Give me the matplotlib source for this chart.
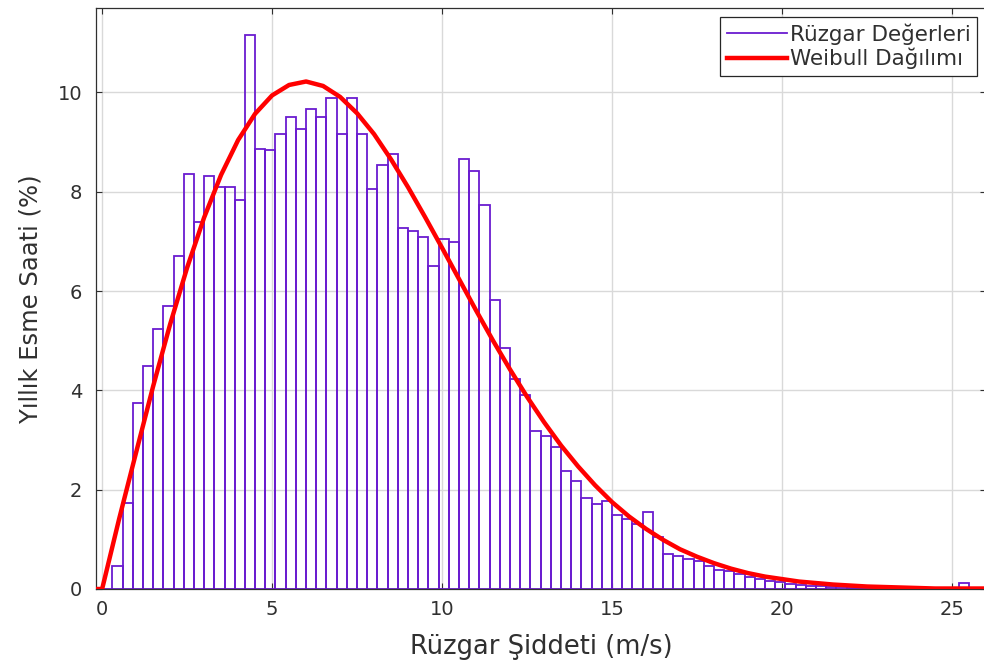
import numpy as np
import matplotlib
matplotlib.use("Agg")
import matplotlib.pyplot as plt
from matplotlib.lines import Line2D

plt.rcParams['font.family'] = ['DejaVu Sans']

# Histogram of wind speeds: bin width 0.3 m/s starting at 0
bin_width = 0.3
bar_heights = [
    0.00, 0.46, 1.73, 3.74, 4.50, 5.24, 5.69, 6.71, 8.35, 7.39,
    8.32, 8.09, 8.09, 7.84, 11.15, 8.87, 8.84, 9.17, 9.51, 9.27,
    9.67, 9.51, 9.88, 9.17, 9.88, 9.17, 8.05, 8.54, 8.76, 7.26,
    7.21, 7.09, 6.51, 7.05, 6.99, 8.66, 8.42, 7.73, 5.82, 4.85,
    4.23, 3.91, 3.19, 3.09, 2.85, 2.37, 2.17, 1.83, 1.72, 1.78,
    1.49, 1.41, 1.31, 1.56, 1.04, 0.71, 0.66, 0.61, 0.56, 0.46,
    0.39, 0.36, 0.31, 0.25, 0.20, 0.17, 0.14, 0.10, 0.08, 0.07,
    0.06, 0.05, 0.04, 0.03, 0.02, 0.02, 0.01, 0.01, 0.00, 0.00,
    0.00, 0.01, 0.00, 0.00, 0.12,
]

# Fitted Weibull density (% per m/s), sampled every 0.5 m/s
weibull_speed = [-0.2] + [0.5 * i for i in range(53)]
weibull_pct = [
    0.00,
    0.00, 1.41, 2.75, 4.08, 5.33, 6.47, 7.48, 8.34, 9.04, 9.57,
    9.94, 10.15, 10.22, 10.13, 9.91, 9.58, 9.16, 8.65, 8.09, 7.49,
    6.87, 6.24, 5.61, 5.00, 4.42, 3.87, 3.36, 2.89, 2.47, 2.09,
    1.75, 1.46, 1.21, 0.99, 0.80, 0.65, 0.52, 0.41, 0.32, 0.25,
    0.20, 0.15, 0.12, 0.09, 0.07, 0.05, 0.04, 0.03, 0.02, 0.01,
    0.01, 0.01, 0.01,
]

x_ticks = [0, 5, 10, 15, 20, 25]
y_ticks = [0, 2, 4, 6, 8, 10]

bar_color = '#6A1BD0'
line_color = '#FF0000'
text_color = '#303030'

fig = plt.figure(figsize=(9.84, 6.65), dpi=100)
ax = fig.add_axes([96 / 984, 1 - 589 / 665, 890 / 984, (589 - 8) / 665])

left_edges = np.arange(len(bar_heights)) * bin_width
ax.bar(left_edges, bar_heights, width=bin_width, align='edge',
       facecolor='none', edgecolor=bar_color, linewidth=1.3, zorder=2)
ax.plot(weibull_speed, weibull_pct, color=line_color, linewidth=3.2,
        solid_capstyle='butt', zorder=3)

ax.set_xlim(-0.18, 26)
ax.set_ylim(0, 11.7)
ax.set_xticks(x_ticks)
ax.set_yticks(y_ticks)
ax.grid(True, color='#D9D9D9', linewidth=1.0, zorder=0)
ax.set_axisbelow(True)

ax.tick_params(direction='in', top=True, right=True, length=4,
               colors=text_color, labelsize=14, width=0.8)
ax.tick_params(axis='x', pad=8)
ax.tick_params(axis='y', pad=10)
for sp in ax.spines.values():
    sp.set_color(text_color)
    sp.set_linewidth(0.9)

ax.set_xlabel('Rüzgar Şiddeti (m/s)', fontsize=18.5, color=text_color, labelpad=11)
ax.set_ylabel('Yıllık Esme Saati (%)', fontsize=17.5, color=text_color, labelpad=11)

handles = [Line2D([], [], color=bar_color, linewidth=1.3),
           Line2D([], [], color=line_color, linewidth=3.2)]
leg = ax.legend(handles, ['Rüzgar Değerleri', 'Weibull Dağılımı'],
                loc='upper right', fontsize=15.5, handlelength=2.8,
                handletextpad=0.15, borderaxespad=0.4, labelspacing=0.15,
                fancybox=False, framealpha=1, edgecolor='#262626',
                borderpad=0.3)
leg.get_frame().set_linewidth(0.9)
for t in leg.get_texts():
    t.set_color(text_color)

fig.savefig('out.png', dpi=100)
